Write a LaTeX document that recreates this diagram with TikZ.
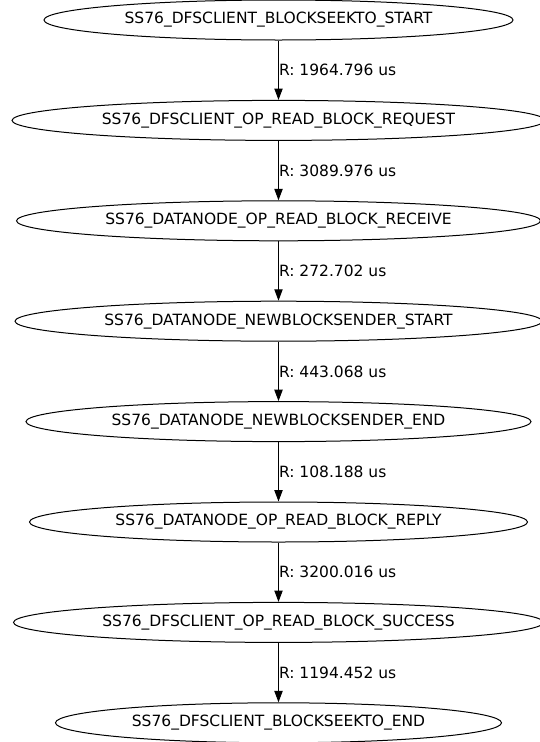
\documentclass[tikz,border=0pt]{standalone}
\usepackage{fontspec}
\setmainfont{DejaVu Sans}
\usetikzlibrary{shapes.geometric,arrows.meta}

\begin{document}
\begin{tikzpicture}[
  x=1pt, y=-1pt,
  font=\fontsize{15.5}{18}\selectfont,
  state/.style={draw, ellipse, line width=1pt, inner sep=0pt, minimum height=40pt, minimum width=#1},
  edge/.style={-{Triangle[length=11.4pt,width=8.3pt]}, line width=1pt},
  elabel/.style={anchor=west, inner sep=0pt}]

    \useasboundingbox (0,0) rectangle (539,742);

    \node[state=469pt] at (278.5, 20) (s1) {SS76\_DFSCLIENT\_BLOCKSEEKTO\_START};
    \node[state=533pt] at (278.5, 120.4) (s2) {SS76\_DFSCLIENT\_OP\_READ\_BLOCK\_REQUEST};
    \node[state=524pt] at (278.5, 220.8) (s3) {SS76\_DATANODE\_OP\_READ\_BLOCK\_RECEIVE};
    \node[state=527pt] at (278.5, 321.2) (s4) {SS76\_DATANODE\_NEWBLOCKSENDER\_START};
    \node[state=505pt] at (278.5, 421.6) (s5) {SS76\_DATANODE\_NEWBLOCKSENDER\_END};
    \node[state=498pt] at (278.5, 522) (s6) {SS76\_DATANODE\_OP\_READ\_BLOCK\_REPLY};
    \node[state=530pt] at (278.5, 622.4) (s7) {SS76\_DFSCLIENT\_OP\_READ\_BLOCK\_SUCCESS};
    \node[state=446pt] at (278.5, 722.8) (s8) {SS76\_DFSCLIENT\_BLOCKSEEKTO\_END};

    \draw[edge] (s1) -- node[elabel] (r1) {R: 1964.796 us} (s2);
    \draw[edge] (s2) -- node[elabel] (r2) {R: 3089.976 us} (s3);
    \draw[edge] (s3) -- node[elabel] (r3) {R: 272.702 us} (s4);
    \draw[edge] (s4) -- node[elabel] (r4) {R: 443.068 us} (s5);
    \draw[edge] (s5) -- node[elabel] (r5) {R: 108.188 us} (s6);
    \draw[edge] (s6) -- node[elabel] (r6) {R: 3200.016 us} (s7);
    \draw[edge] (s7) -- node[elabel] (r7) {R: 1194.452 us} (s8);

\end{tikzpicture}
\end{document}
